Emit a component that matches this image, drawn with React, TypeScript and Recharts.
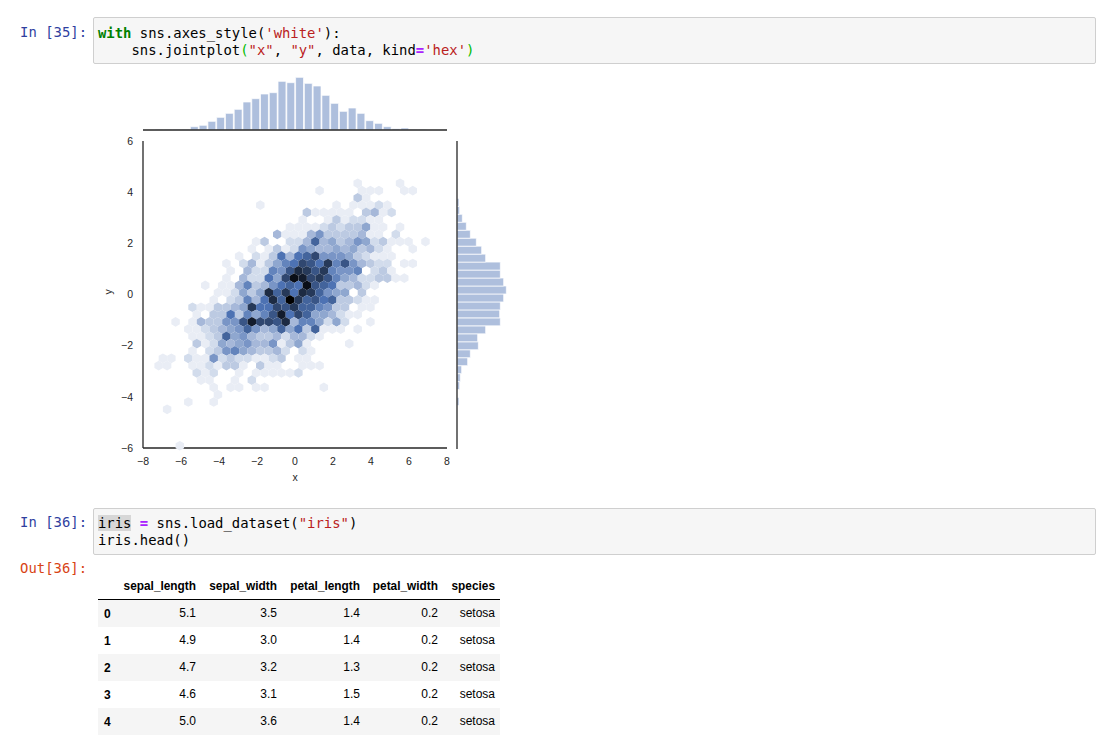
import React from 'react';
import {
    BarChart, Bar,
    ScatterChart, Scatter,
    XAxis, YAxis, Label
} from 'recharts';

// hexbin counts, one row per line from the top of the plot: [first column, counts...]
const hexRows: number[][] = [
    [0, 1, 0, 0, 0, 0, 1],
    [-5, 1, 0, 0, 0, 0, 1, 1, 1, 0, 0, 1, 1],
    [0, 3, 1],
    [-12, 1, 0, 0, 0, 0, 0, 0, 0, 0, 1, 0, 1, 1, 1, 2, 1],
    [-6, 3, 1, 1, 1, 1, 1, 0, 3, 4, 1, 2],
    [-7, 1, 0, 0, 1, 3, 1, 2, 2, 1, 1],
    [-8, 1, 1, 1, 1, 2, 3, 2, 3, 3, 5, 1, 1, 0, 1],
    [-10, 4, 1, 1, 1, 4, 6, 3, 3, 3, 3, 4, 1, 1, 0, 2],
    [-12, 1, 3, 0, 0, 2, 2, 4, 9, 4, 5, 3, 4, 6, 5, 2, 3, 1, 1, 1, 0, 1],
    [-13, 1, 0, 1, 3, 1, 2, 6, 5, 4, 4, 5, 4, 5, 3, 4, 2, 1, 0, 0, 1],
    [-14, 1, 0, 2, 1, 3, 8, 4, 8, 9, 11, 6, 6, 6, 5, 3, 2, 1, 1, 1],
    [-16, 1, 0, 2, 4, 1, 3, 5, 7, 8, 11, 10, 8, 12, 7, 10, 6, 4, 3, 2, 2, 0, 1, 1],
    [-15, 1, 0, 4, 2, 2, 7, 6, 10, 13, 12, 10, 12, 7, 6, 6, 7, 0, 2, 3, 1],
    [-16, 1, 0, 4, 2, 2, 8, 5, 11, 15, 14, 11, 12, 10, 7, 5, 4, 2, 2, 3, 3, 1, 1],
    [-18, 1, 0, 1, 1, 4, 7, 3, 4, 6, 8, 9, 8, 15, 10, 9, 8, 3, 3, 4, 2, 1],
    [-17, 1, 1, 2, 5, 3, 5, 13, 9, 12, 8, 13, 12, 9, 6, 5, 5, 0, 3],
    [-17, 1, 0, 2, 3, 7, 4, 8, 13, 9, 16, 12, 9, 10, 8, 9, 3, 3, 2, 1, 1],
    [-20, 2, 1, 1, 3, 3, 4, 5, 12, 8, 8, 11, 10, 12, 9, 9, 7, 6, 3, 3, 0, 1, 1],
    [-19, 1, 0, 3, 3, 8, 3, 7, 5, 7, 10, 14, 8, 11, 9, 5, 5, 4, 2, 1, 1],
    [-22, 1, 0, 1, 4, 3, 3, 6, 6, 10, 14, 11, 11, 10, 13, 4, 7, 7, 5, 2, 5, 2, 0, 0, 1],
    [-20, 1, 1, 2, 3, 4, 5, 6, 9, 6, 4, 5, 9, 5, 8, 3, 9, 1, 1, 1, 0, 1],
    [-20, 1, 1, 2, 3, 9, 5, 6, 4, 3, 3, 4, 2, 4, 4, 2, 1],
    [-19, 3, 1, 2, 5, 4, 5, 6, 4, 4, 6, 1, 3, 5, 1, 0, 0, 0, 0, 1],
    [-20, 1, 0, 2, 3, 6, 7, 5, 4, 3, 3, 4, 2, 0, 2, 1],
    [-23, 1, 1, 0, 2, 1, 1, 6, 2, 3, 2, 2, 1, 1, 2, 3, 0, 1, 1],
    [-24, 1, 1, 0, 0, 1, 1, 2, 1, 3, 3, 1, 0, 3, 1, 1, 0, 0, 1, 1, 1],
    [-19, 2, 1, 2, 0, 0, 1, 0, 1, 1, 1, 1, 1, 2],
    [-19, 1, 1, 0, 0, 1, 0, 2],
    [-17, 1, 0, 1, 1, 0, 1, 1, 0, 0, 0, 0, 0, 0, 1],
    [-17, 1],
    [-20, 1, 0, 0, 1],
    [-23, 1],
    [0],
    [0],
    [0],
    [0],
    [-21, 1],
];

const topHistCounts = [1, 1, 1, 1, 5, 7, 13, 19, 25, 31, 42, 47, 54, 56, 73, 71, 79, 70, 66, 52, 40, 28, 33, 25, 14, 10, 5, 2, 3, 1, 1];
const rightHistCounts = [3, 0, 4, 5, 7, 16, 20, 32, 31, 43, 65, 64, 65, 70, 74, 70, 65, 65, 43, 37, 29, 20, 14, 8, 4, 3];

const xTicks = [-8, -6, -4, -2, 0, 2, 4, 6, 8];
const yTicks = [-6, -4, -2, 0, 2, 4, 6];

const tableColumns = ['sepal_length', 'sepal_width', 'petal_length', 'petal_width', 'species'];
const tableRows = [
    ['0', '5.1', '3.5', '1.4', '0.2', 'setosa'],
    ['1', '4.9', '3.0', '1.4', '0.2', 'setosa'],
    ['2', '4.7', '3.2', '1.3', '0.2', 'setosa'],
    ['3', '4.6', '3.1', '1.5', '0.2', 'setosa'],
    ['4', '5.0', '3.6', '1.4', '0.2', 'setosa'],
];
const tableRight = [196, 277, 360, 438, 495];

const MAX_COUNT = 16;
const BAR_FILL = '#aebfdd';
const INK = '#262626';
const MONO = '"DejaVu Sans Mono", monospace';
const SANS = '"Liberation Sans", Arial, sans-serif';

const hexPoints: { x: number; y: number; count: number }[] = [];
hexRows.forEach((row, r) => {
    row.slice(1).forEach((count, i) => {
        if (count === 0) return;
        const col = row[0] + i + (r % 2 ? 0.5 : 0);
        hexPoints.push({ x: 3.3 + col * 0.4458, y: 4.3465 - r * 0.28496, count });
    });
});

const topHistData = topHistCounts.map((count, i) => ({ bin: -7.122 + i * 0.4615, count }));
const rightHistData = rightHistCounts.map((count, i) => ({ bin: 4.151 - i * 0.3104, count }));

const minus = (v: number) => String(v).replace('-', '\u2212');

const HexCell = (props: any) => {
    const { cx, cy, payload } = props;
    const hw = 4.235;
    const r = 4.86;
    const pts = [
        [cx, cy - r], [cx + hw, cy - r / 2], [cx + hw, cy + r / 2],
        [cx, cy + r], [cx - hw, cy + r / 2], [cx - hw, cy - r / 2],
    ].map(p => p.join(',')).join(' ');
    const light = (1 - payload.count / MAX_COUNT) * 100;
    return <polygon points={pts} fill={`hsl(218, 40%, ${light}%)`} stroke="none" />;
};

const Prompt = ({ top, color, text }: { top: number; color: string; text: string }) => (
    <div style={{ position: 'absolute', top, right: 1107 - 87, fontFamily: MONO, fontSize: 13.9, lineHeight: '17px', color, whiteSpace: 'pre' }}>{text}</div>
);

const CodeBox = ({ top, textTop, children }: { top: number; textTop: number; children: React.ReactNode }) => (
    <div style={{
        position: 'absolute', left: 93, top, width: 1001, height: 45, border: '1px solid #cfcfcf', borderRadius: 2,
        background: '#f6f6f6', fontFamily: MONO, fontSize: 13.9, lineHeight: '17px', color: '#000', whiteSpace: 'pre',
        padding: 0,
    }}>
        <div style={{ position: 'absolute', left: 4, top: textTop }}>{children}</div>
    </div>
);

const kw = (t: string) => <span style={{ color: '#008000', fontWeight: 'bold' }}>{t}</span>;
const str = (t: string) => <span style={{ color: '#ba2121' }}>{t}</span>;
const op = (t: string) => <span style={{ color: '#aa22ff', fontWeight: 'bold' }}>{t}</span>;
const bracket = (t: string) => <span style={{ color: '#00bb00' }}>{t}</span>;

const Notebook = () => (
    <>
        <Prompt top={24} color="#303f9f" text="In [35]:" />
        <CodeBox top={17} textTop={7}>
            {kw('with')} sns.axes_style({str("'white'")}):{'\n'}
            {'    '}sns.jointplot{bracket('(')}{str('"x"')}, {str('"y"')}, data, kind{op('=')}{str("'hex'")}{bracket(')')}
        </CodeBox>

        <Prompt top={514} color="#303f9f" text="In [36]:" />
        <CodeBox top={508} textTop={6}>
            <span style={{ background: '#d7d7d7' }}>iris</span> {op('=')} sns.load_dataset({str('"iris"')}){'\n'}
            iris.head()
        </CodeBox>
        <Prompt top={560} color="#d84315" text="Out[36]:" />

        {tableRows.map((_, i) => i % 2 === 0 && (
            <div key={i} style={{ position: 'absolute', left: 98, top: 600 + i * 27, width: 402, height: 27, background: '#f5f5f5' }} />
        ))}
        <div style={{ position: 'absolute', left: 98, top: 599, width: 402, height: 1, background: '#000' }} />
        {tableColumns.map((c, i) => (
            <div key={c} style={{ position: 'absolute', right: 1107 - tableRight[i], top: 579, fontFamily: SANS, fontSize: 11.85, fontWeight: 'bold', lineHeight: '14px', color: '#000' }}>{c}</div>
        ))}
        {tableRows.map((row, r) => row.map((cell, c) => (
            c === 0
                ? <div key={`${r}-${c}`} style={{ position: 'absolute', left: 104, top: 607 + r * 27, fontFamily: SANS, fontSize: 12, fontWeight: 'bold', lineHeight: '14px', color: '#000' }}>{cell}</div>
                : <div key={`${r}-${c}`} style={{ position: 'absolute', right: 1107 - tableRight[c - 1], top: 606 + r * 27, fontFamily: SANS, fontSize: 12, lineHeight: '14px', color: '#000' }}>{cell}</div>
        )))}
    </>
);

export default function App() {
    const tick = { fontSize: 10.5, fontFamily: SANS, fill: INK };
    return (
        <div style={{ position: 'absolute', left: 0, top: 0, width: 1107, height: 747, background: '#fff', overflow: 'hidden' }}>
            <Notebook />

            <div style={{ position: 'absolute', left: 143, top: 70 }}>
                <BarChart width={304} height={61} data={topHistData} margin={{ top: 0, right: 0, bottom: 0, left: 0 }} barCategoryGap={0}>
                    <XAxis type="number" dataKey="bin" domain={[-8, 8]} tick={false} tickLine={false} height={1} axisLine={{ stroke: INK, strokeWidth: 1.3 }} />
                    <YAxis hide domain={[0, 90]} />
                    <Bar dataKey="count" fill={BAR_FILL} stroke="#fff" strokeWidth={0.7} barSize={8.77} isAnimationActive={false} />
                </BarChart>
            </div>

            <div style={{ position: 'absolute', left: 103, top: 131 }}>
                <ScatterChart width={354} height={352} margin={{ top: 10, right: 10, bottom: 0, left: 0 }}>
                    <XAxis
                        type="number" dataKey="x" domain={[-8, 8]} ticks={xTicks} interval={0} height={35}
                        tick={tick} tickLine={false} tickMargin={4} tickFormatter={minus}
                        axisLine={{ stroke: INK, strokeWidth: 1.3 }}
                    >
                        <Label value="x" position="insideBottom" offset={2} style={{ fontSize: 10.5, fontFamily: SANS, fill: INK }} />
                    </XAxis>
                    <YAxis
                        type="number" dataKey="y" domain={[-6, 6]} ticks={yTicks} interval={0} width={40}
                        tick={tick} tickLine={false} tickMargin={4} tickFormatter={minus}
                        axisLine={{ stroke: INK, strokeWidth: 1.3 }}
                    >
                        <Label value="y" angle={-90} position="insideLeft" offset={5} style={{ fontSize: 10.5, fontFamily: SANS, fill: INK }} />
                    </YAxis>
                    <Scatter data={hexPoints} shape={HexCell} isAnimationActive={false} />
                </ScatterChart>
            </div>

            <div style={{ position: 'absolute', left: 456, top: 141 }}>
                <BarChart width={61} height={308} layout="vertical" data={rightHistData} margin={{ top: 0, right: 0, bottom: 0, left: 0 }} barCategoryGap={0}>
                    <XAxis type="number" hide domain={[0, 90]} />
                    <YAxis type="number" dataKey="bin" domain={[-6, 6]} tick={false} tickLine={false} width={1} axisLine={{ stroke: INK, strokeWidth: 1.3 }} />
                    <Bar dataKey="count" fill={BAR_FILL} stroke="#fff" strokeWidth={0.7} barSize={7.94} isAnimationActive={false} />
                </BarChart>
            </div>
        </div>
    );
}
